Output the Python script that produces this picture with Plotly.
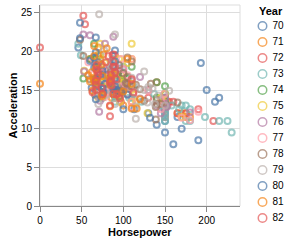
import plotly.graph_objects as go

# ---- data (Horsepower, Acceleration) by model year ----
YEARS = ['70', '71', '72', '73', '74', '75', '76', '77', '78', '79', '80', '81', '82']

HP70 = [130, 165, 150, 150, 140, 190, 170, 160, 150, 95, 95, 97, 85, 88, 46, 87, 90, 95, 113, 90, 215, 200, 210, 193]
ACC70 = [12.0, 11.5, 11.0, 12.0, 10.5, 8.5, 10.0, 8.0, 9.5, 15.0, 15.5, 15.5, 16.0, 14.5, 20.5, 17.5, 14.5, 17.5, 12.5, 15.0, 14.0, 15.0, 13.5, 18.5]

HP71 = [88, 90, 95, 100, 105, 100, 88, 100, 165, 175, 153, 150, 180, 170, 175, 110, 72, 100, 88, 86, 90, 70, 76, 65, 69, 60, 70]
ACC71 = [14.5, 15.5, 14.0, 13.0, 15.5, 15.5, 15.5, 15.5, 12.0, 11.5, 13.5, 13.0, 11.5, 12.0, 12.0, 13.5, 19.0, 15.0, 14.5, 14.0, 14.0, 19.5, 14.5, 19.0, 18.0, 19.0, 20.5]

HP72 = [95, 80, 54, 90, 86, 165, 175, 150, 153, 150, 208, 155, 160, 190, 97, 150, 130, 140, 150, 112, 76, 87, 69, 86, 92, 97, 80, 88]
ACC72 = [15.5, 17.0, 23.5, 19.5, 16.5, 12.0, 12.0, 13.5, 13.0, 11.5, 11.0, 13.5, 13.5, 12.5, 13.5, 12.5, 14.0, 16.0, 14.0, 14.5, 18.0, 19.5, 18.0, 16.0, 17.0, 14.5, 15.0, 16.5]

HP73 = [175, 150, 145, 137, 150, 198, 150, 158, 150, 215, 225, 175, 105, 100, 100, 88, 95, 46, 150, 167,
        170, 180, 100, 88, 72, 94, 90, 85, 107, 90, 145, 230, 49, 75, 91, 112, 150, 110, 122, 180]
ACC73 = [13.0, 11.5, 13.0, 14.5, 12.5, 11.5, 12.0, 13.0, 14.5, 11.0, 11.0, 11.0, 16.5, 18.0, 16.0, 16.5, 16.0, 21.0, 14.0, 12.5,
         13.0, 12.5, 15.0, 19.0, 19.5, 16.5, 13.5, 18.5, 14.0, 15.5, 13.0, 9.5, 19.5, 15.5, 14.0, 15.5, 11.0, 14.0, 13.5, 11.0]

HP74 = [95, 100, 100, 67, 80, 65, 75, 100, 110, 105, 140, 150, 150, 140, 150, 83, 67, 78, 52, 61, 75, 75, 75, 97, 93, 67]
ACC74 = [16.5, 16.0, 17.0, 19.0, 16.5, 21.0, 17.0, 17.0, 18.0, 16.5, 14.0, 14.5, 13.5, 16.0, 15.5, 16.5, 15.5, 14.5, 16.5, 19.0, 14.5, 15.5, 14.0, 15.0, 15.5, 16.0]

HP75 = [95, 105, 72, 72, 170, 145, 150, 148, 110, 105, 110, 95, 110, 110, 129, 75, 83, 100, 78, 96, 71, 97, 97, 70, 90, 95, 88, 98, 115, 53]
ACC75 = [16.0, 16.0, 21.0, 19.5, 11.5, 14.0, 14.5, 13.5, 21.0, 18.5, 19.0, 19.0, 15.0, 13.5, 12.0, 16.0, 17.0, 16.0, 18.5, 13.5, 16.5, 17.0, 14.5, 14.0, 17.0, 15.0, 17.0, 14.5, 13.5, 17.5]

HP76 = [86, 81, 92, 79, 83, 140, 150, 120, 152, 100, 105, 81, 90, 52, 60, 70, 53, 100, 78, 110,
        95, 71, 70, 75, 72, 102, 150, 88, 108, 120, 180, 145, 130, 150]
ACC76 = [15.5, 16.9, 14.9, 17.7, 15.3, 13.0, 13.0, 13.9, 12.8, 15.4, 14.5, 17.6, 17.6, 22.2, 22.1, 14.2, 17.4, 17.7, 21.0, 16.2,
         17.8, 12.2, 17.0, 16.4, 13.6, 15.7, 13.2, 21.9, 15.5, 16.7, 12.1, 12.0, 15.0, 14.0]

HP77 = [68, 80, 58, 96, 70, 145, 110, 145, 130, 110, 105, 100, 98, 180, 170, 190, 149, 78, 88, 75, 89, 63, 83, 67, 78, 97, 110, 110]
ACC77 = [18.5, 14.8, 18.6, 15.5, 16.8, 12.5, 19.0, 13.7, 14.9, 16.4, 16.9, 17.7, 19.0, 11.1, 11.4, 12.2, 14.5, 14.5, 16.0, 18.2, 15.8, 17.0, 15.9, 16.4, 14.1, 14.5, 12.8, 13.5]

HP78 = [48, 66, 52, 70, 60, 110, 140, 139, 105, 95, 85, 88, 100, 90, 105, 85, 110, 120, 145, 165,
        139, 140, 68, 95, 97, 75, 95, 105, 85, 97, 103, 125, 115, 133, 71, 68]
ACC78 = [21.5, 14.4, 19.4, 18.6, 16.4, 15.5, 13.2, 12.8, 19.2, 18.2, 15.8, 15.4, 17.2, 17.2, 15.8, 16.7, 18.7, 15.1, 13.2, 13.4,
         11.2, 13.7, 16.5, 14.2, 14.7, 14.5, 14.8, 16.7, 17.6, 14.9, 15.9, 13.6, 15.7, 15.8, 14.9, 16.6]

HP79 = [115, 85, 88, 90, 110, 130, 129, 138, 135, 155, 142, 125, 150, 71, 65, 80, 80, 77, 125, 71, 90, 70, 70, 65, 69, 90, 115, 115, 90]
ACC79 = [15.4, 18.2, 17.3, 18.2, 16.6, 15.4, 13.4, 13.2, 15.2, 14.9, 14.3, 15.0, 13.0, 14.0, 15.2, 14.4, 15.0, 20.1, 17.4, 24.8, 22.2, 13.2, 14.9, 19.2, 14.7, 16.0, 11.3, 12.9, 13.2]

HP80 = [76, 60, 70, 65, 90, 88, 90, 90, 78, 90, 75, 92, 75, 65, 105, 65, 48, 48, 67, 67, 67, 67, 62, 132, 100, 88, 72]
ACC80 = [14.7, 18.8, 15.5, 16.4, 16.5, 18.1, 20.1, 18.7, 15.8, 15.5, 17.5, 15.0, 15.2, 17.9, 14.4, 19.2, 21.7, 23.7, 19.9, 21.8, 13.8, 18.0, 15.3, 11.4, 12.5, 15.1, 17.0]

HP81 = [84, 84, 92, 110, 84, 58, 64, 60, 67, 65, 62, 68, 63, 65, 65, 74, 0, 75, 75, 100, 74, 80, 76, 116, 120, 110, 105, 88, 85]
ACC81 = [15.7, 16.4, 14.4, 12.6, 12.9, 16.9, 16.4, 16.1, 17.8, 19.4, 17.3, 16.0, 14.9, 16.2, 20.7, 14.2, 15.8, 14.4, 16.8, 14.8, 18.3, 20.4, 19.6, 12.6, 13.8, 15.8, 19.0, 17.1, 16.6]

HP82 = [88, 88, 88, 85, 84, 90, 92, 0, 74, 68, 68, 63, 70, 88, 75, 70, 67, 67, 67, 110, 85, 92, 112, 96, 84, 90, 86, 52, 84, 79, 82]
ACC82 = [19.6, 18.6, 18.0, 16.2, 16.0, 18.0, 16.4, 20.5, 15.3, 18.2, 17.6, 14.7, 17.3, 14.5, 14.5, 16.9, 15.0, 15.7, 16.2, 16.4, 17.0, 14.5, 14.7, 13.9, 13.0, 17.3, 15.6, 24.6, 11.6, 18.6, 19.4]

HP = [HP70, HP71, HP72, HP73, HP74, HP75, HP76, HP77, HP78, HP79, HP80, HP81, HP82]
ACC = [ACC70, ACC71, ACC72, ACC73, ACC74, ACC75, ACC76, ACC77, ACC78, ACC79, ACC80, ACC81, ACC82]

X_TICKS = [0, 50, 100, 150, 200]
Y_TICKS = [0, 5, 10, 15, 20, 25]

COLORS = ['#4c78a8', '#f58518', '#e45756', '#72b7b2', '#54a24b', '#eeca3b', '#b279a2',
          '#ff9da6', '#9d755d', '#bab0ac', '#4c78a8', '#f58518', '#e45756']

# ---- layout geometry (pixels) ----
W, H = 290, 242
PL, PR, PT, PB = 40, 240, 5, 206
FONT = 'Liberation Sans, Arial, sans-serif'

fig = go.Figure()
for yr, hp, acc, col in zip(YEARS, HP, ACC, COLORS):
    fig.add_trace(go.Scatter(
        x=hp, y=acc, mode='markers', name=yr,
        marker=dict(symbol='circle-open', size=6, color=col, opacity=0.7,
                    line=dict(width=2, color=col)),
        showlegend=False, hoverinfo='skip', cliponaxis=False))

# ---- manual legend (on a pixel-space overlay axis) ----
LEG_Y = [26 + 16 * i for i in range(len(YEARS))]
fig.add_trace(go.Scatter(
    x=[262.5] * len(YEARS), y=LEG_Y, mode='markers', xaxis='x2', yaxis='y2',
    marker=dict(symbol='circle-open', size=8.5, color=COLORS, opacity=0.7,
                line=dict(width=1.5)),
    showlegend=False, hoverinfo='skip', cliponaxis=False))
fig.add_trace(go.Scatter(
    x=[272.5] * len(YEARS), y=LEG_Y, mode='text', text=YEARS, xaxis='x2', yaxis='y2',
    textposition='middle right', textfont=dict(size=10, color='#000', family=FONT),
    showlegend=False, hoverinfo='skip', cliponaxis=False))

axis_common = dict(showgrid=True, gridcolor='#ddd', gridwidth=1, showline=True,
                   linecolor='#888', linewidth=1, ticks='outside', ticklen=5,
                   tickcolor='#888', tickwidth=1, zeroline=False, automargin=False,
                   tickfont=dict(size=10, color='#000', family=FONT), fixedrange=True)

fig.update_layout(
    width=W, height=H,
    margin=dict(l=0, r=0, t=0, b=0, pad=0),
    paper_bgcolor='white', plot_bgcolor='rgba(0,0,0,0)',
    showlegend=False,
    font=dict(family=FONT, size=10, color='#000'),
    xaxis=dict(domain=[PL / W, PR / W], range=[0, 240], tickvals=X_TICKS, anchor='y', **axis_common),
    yaxis=dict(domain=[(H - PB) / H, (H - PT) / H], range=[0, 26], tickvals=Y_TICKS, anchor='x', **axis_common),
    xaxis2=dict(domain=[0, 1], range=[0, W], visible=False, anchor='y2', fixedrange=True),
    yaxis2=dict(domain=[0, 1], range=[H, 0], visible=False, anchor='x2', fixedrange=True),
    shapes=[dict(type='rect', xref='x domain', yref='y domain', x0=0, x1=1, y0=0, y1=1,
                 line=dict(color='#ddd', width=1), layer='below')],
    annotations=[
        dict(text='<b>Horsepower</b>', xref='paper', yref='paper', x=(PL + PR) / 2 / W, y=(H - 232) / H,
             xanchor='center', yanchor='middle', showarrow=False, font=dict(size=11, color='#000', family=FONT)),
        dict(text='<b>Acceleration</b>', xref='paper', yref='paper', x=12 / W, y=(H - (PT + PB) / 2) / H,
             xanchor='center', yanchor='middle', textangle=-90, showarrow=False,
             font=dict(size=11, color='#000', family=FONT)),
        dict(text='<b>Year</b>', xref='paper', yref='paper', x=257 / W, y=(H - 11) / H,
             xanchor='left', yanchor='middle', showarrow=False, font=dict(size=11, color='#000', family=FONT)),
    ],
)

fig.write_html('out.html', config={'displayModeBar': False},
               post_script="document.body.style.margin='0';document.body.style.overflow='hidden';")
